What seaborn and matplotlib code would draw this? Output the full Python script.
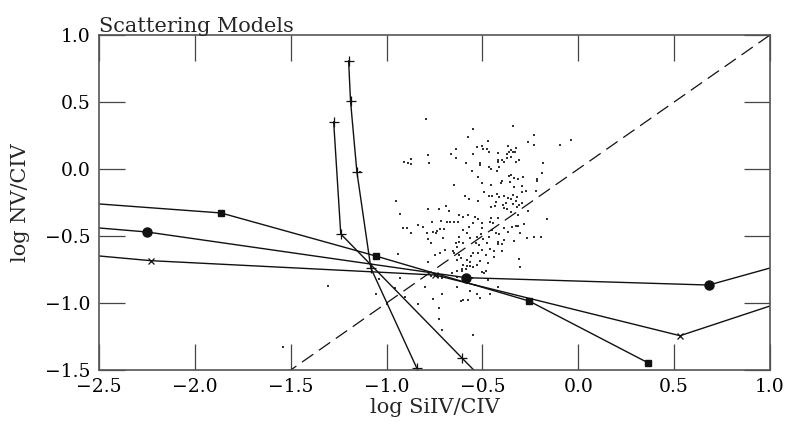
import matplotlib
matplotlib.use("Agg")
import matplotlib.pyplot as plt
import seaborn as sns
import pandas as pd

# ---- observed points (log SiIV/CIV, log NV/CIV) ----
dot_x = [-0.793, -0.548, -0.574, -0.636, -0.662, -0.782, -0.548, -0.636, -0.871, -0.908,
         -0.887, -0.871, -0.777, -0.584, -1.137, -0.553, -0.647,
         -0.339, -0.469, -0.230, -0.261, -0.230, -0.094, -0.037, -0.527, -0.501, -0.496,
         -0.475, -0.464, -0.365, -0.323, -0.350, -0.360, -0.339, -0.329, -0.417, -0.370,
         -0.350, -0.370, -0.396, -0.417, -0.417, -0.386, -0.323, -0.308, -0.511, -0.511,
         -0.183, -0.412, -0.464, -0.454, -0.423, -0.188, -0.350, -0.360, -0.522, -0.287,
         -0.313, -0.334, -0.214, -0.214, -0.396, -0.355, -0.501, -0.454, -0.402, -0.334, -0.292,
         -0.589, -0.569, -0.949, -0.929, -0.782, -0.725, -0.689, -0.673, -0.621, -0.600,
         -0.574, -0.762, -0.715, -0.683, -0.668, -0.647, -0.626, -0.548, -0.835, -0.809,
         -0.913, -0.892, -0.720, -0.699, -0.736, -0.756, -0.788, -0.741, -0.871, -0.569,
         -0.600, -0.579, -0.782, -0.704, -0.621, -0.563, -0.621, -0.636, -0.767, -0.600,
         -0.631, -0.939, -0.720, -0.694, -0.652, -0.647, -0.746, -0.621, -0.610, -0.558,
         -0.548, -0.631, -0.579, -0.563, -0.600, -0.579, -0.563, -0.605, -0.584, -0.548, -0.782,
         -0.490, -0.292, -0.271, -0.219, -0.423, -0.464, -0.449, -0.412, -0.386, -0.339,
         -0.318, -0.365, -0.350, -0.522, -0.428, -0.323, -0.376, -0.391, -0.339, -0.308,
         -0.292, -0.454, -0.433, -0.386, -0.370, -0.318, -0.350, -0.261, -0.313, -0.537,
         -0.454, -0.417, -0.162, -0.522, -0.459, -0.443, -0.501, -0.282, -0.344, -0.323,
         -0.313, -0.386, -0.501, -0.449, -0.365, -0.428, -0.412, -0.506, -0.303, -0.527,
         -0.464, -0.496, -0.386, -0.417, -0.334, -0.193, -0.230, -0.266, -0.532, -0.475,
         -0.417, -0.396, -0.516, -0.501, -0.459, -0.438, -0.396, -0.522, -0.480, -0.438,
         -0.308, -0.511, -0.469, -0.303, -0.527,
         -0.929, -0.657, -0.631, -0.605, -0.767, -0.730, -0.709, -0.631, -0.553, -1.038,
         -0.798, -0.631, -0.563, -0.955, -1.054, -0.902, -0.709, -0.756, -0.610, -0.600,
         -0.574, -0.996, -0.835, -0.725, -0.725, -0.709, -0.548,
         -0.501, -0.480, -0.490, -0.469, -0.537, -0.527, -0.511, -0.459, -0.417,
         -1.304, -1.539]
dot_y = [0.373, 0.299, 0.239, 0.149, 0.112, 0.104, 0.112, 0.082, 0.075, 0.052,
         0.045, 0.037, 0.045, 0.045, -0.022, -0.015, -0.119,
         0.321, 0.209, 0.254, 0.201, 0.179, 0.179, 0.216, 0.164, 0.172, 0.149,
         0.149, 0.127, 0.172, 0.157, 0.142, 0.127, 0.127, 0.127, 0.119, 0.112,
         0.090, 0.082, 0.067, 0.067, 0.052, 0.052, 0.052, 0.067, 0.045, 0.030,
         0.045, 0.015, 0.015, 0.000, -0.015, -0.030, -0.045, -0.052, -0.060, -0.060,
         -0.075, -0.067, -0.075, -0.090, -0.090, -0.097, -0.104, -0.119, -0.104, -0.134, -0.127,
         -0.201, -0.224, -0.239, -0.336, -0.299, -0.299, -0.276, -0.313, -0.343, -0.358,
         -0.343, -0.396, -0.388, -0.396, -0.396, -0.396, -0.396, -0.403, -0.418, -0.433,
         -0.440, -0.440, -0.448, -0.448, -0.463, -0.470, -0.478, -0.478, -0.478, -0.433,
         -0.455, -0.478, -0.522, -0.515, -0.507, -0.515, -0.545, -0.552, -0.552, -0.552,
         -0.582, -0.634, -0.627, -0.604, -0.612, -0.627, -0.642, -0.642, -0.664, -0.649,
         -0.627, -0.679, -0.679, -0.694, -0.716, -0.724, -0.724, -0.746, -0.746, -0.731, -0.694,
         -0.172, -0.172, -0.164, -0.164, -0.187, -0.201, -0.201, -0.209, -0.201, -0.194,
         -0.209, -0.216, -0.224, -0.239, -0.246, -0.239, -0.254, -0.269, -0.261, -0.269,
         -0.254, -0.284, -0.276, -0.291, -0.299, -0.284, -0.321, -0.313, -0.343, -0.358,
         -0.366, -0.366, -0.373, -0.373, -0.396, -0.403, -0.403, -0.410, -0.433, -0.425,
         -0.425, -0.440, -0.440, -0.455, -0.470, -0.478, -0.485, -0.485, -0.478, -0.507,
         -0.507, -0.522, -0.530, -0.545, -0.537, -0.507, -0.507, -0.515, -0.552, -0.552,
         -0.560, -0.560, -0.567, -0.604, -0.597, -0.612, -0.612, -0.627, -0.642, -0.657,
         -0.672, -0.687, -0.701, -0.731, -0.716,
         -0.813, -0.776, -0.761, -0.761, -0.799, -0.806, -0.813, -0.806, -0.813, -0.821,
         -0.881, -0.881, -0.910, -0.888, -0.933, -0.955, -0.933, -0.970, -0.985, -0.978,
         -0.978, -1.007, -1.007, -1.037, -1.119, -1.201, -1.239,
         -0.769, -0.761, -0.776, -0.828, -0.866, -0.933, -0.963, -0.933, -0.881,
         -0.873, -1.328]

# ---- scattering model tracks ----
sq_x = [-3.0, -1.864, -1.057, -0.257, 0.362]
sq_y = [-0.208, -0.328, -0.649, -0.985, -1.445]

circ_x = [-3.0, -2.250, -0.586, 0.681, 1.5]
circ_y = [-0.380, -0.470, -0.811, -0.866, -0.540]

cross_x = [-3.0, -2.230, -0.748, 0.531, 1.5]
cross_y = [-0.584, -0.684, -0.791, -1.244, -0.786]

plusA_x = [-1.198, -1.188, -1.155, -1.082, -0.842]
plusA_y = [0.808, 0.507, -0.020, -0.739, -1.487]

plusB_x = [-1.276, -1.239, -0.605, -0.408]
plusB_y = [0.353, -0.485, -1.413, -1.700]

diag_x = [-2.5, 1.0]
diag_y = [-2.5, 1.0]

x_ticks = [-2.5, -2.0, -1.5, -1.0, -0.5, 0.0, 0.5, 1.0]
y_ticks = [-1.5, -1.0, -0.5, 0.0, 0.5, 1.0]

sns.set_style("ticks")
plt.rcParams['font.family'] = ['DejaVu Serif', 'DejaVu Sans']
plt.rcParams['mathtext.fontset'] = 'dejavuserif'

fig = plt.figure(figsize=(7.9, 4.32), dpi=100)
ax = fig.add_axes([99/790, 62/432, 671/790, 335/432])

ink = '#111111'
sns.scatterplot(x=dot_x, y=dot_y, ax=ax, marker='s', s=1.4, color='#333333',
                linewidth=0, legend=False)

def track(xs, ys, marker, ms, mew=1.0):
    df = pd.DataFrame({'x': xs, 'y': ys})
    sns.lineplot(data=df, x='x', y='y', ax=ax, sort=False, estimator=None,
                 color=ink, lw=1.0, marker=marker, markersize=ms,
                 markeredgewidth=mew, markeredgecolor=ink, markerfacecolor=ink,
                 legend=False)

track(sq_x, sq_y, 's', 5.0)
track(circ_x, circ_y, 'o', 6.5)
track(cross_x, cross_y, 'x', 4.5, 0.9)
track(plusA_x, plusA_y, '+', 6.5, 0.9)
track(plusB_x, plusB_y, '+', 6.5, 0.9)

ax.plot(diag_x, diag_y, color=ink, lw=0.9, dashes=(11, 5.5))

ax.set_xlim(-2.5, 1.0)
ax.set_ylim(-1.5, 1.0)
ax.set_xticks(x_ticks)
ax.set_yticks(y_ticks)
ax.set_xticklabels([f"{v:.1f}".replace('-', '\u2212') for v in x_ticks])
ax.set_yticklabels([f"{v:.1f}".replace('-', '\u2212') for v in y_ticks])
ax.tick_params(direction='in', length=19, width=0.9, top=True, right=True,
               labelsize=13.5, colors='#444444', labelcolor='black', pad=6)
for s in ax.spines.values():
    s.set_visible(True)
    s.set_linewidth(1.2)
    s.set_color('#555555')

ax.set_xlabel('log SiIV/CIV', fontsize=15, labelpad=1)
ax.set_ylabel('log NV/CIV', fontsize=15, labelpad=11)
ax.set_title('Scattering Models', loc='left', fontsize=15, pad=2)

fig.savefig('out.png', dpi=100)
